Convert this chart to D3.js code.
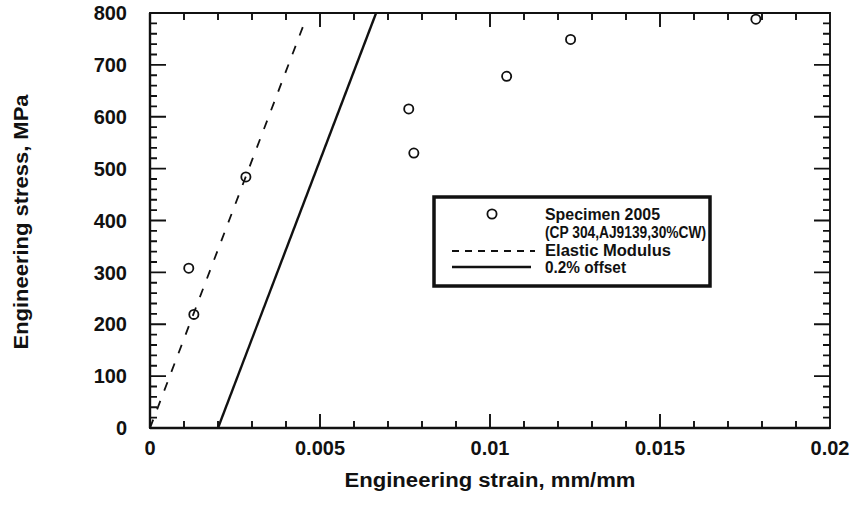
<!DOCTYPE html>
<html>
<head>
<meta charset="utf-8">
<script src="https://cdn.jsdelivr.net/npm/d3@7"></script>
<style>
  html, body { margin: 0; padding: 0; background: #fff; }
  svg { display: block; }
  text { font-family: "Liberation Sans", Arial, Helvetica, sans-serif; font-weight: bold; fill: #111; }
</style>
</head>
<body>
<svg id="chart" width="854" height="505"></svg>
<script>
// ---- data ----
const specimenStrain = [0.00114, 0.00129, 0.00282, 0.00761, 0.00776, 0.01049, 0.01237, 0.01782];
const specimenStress = [308, 219, 484, 615, 530, 678, 749, 788];
const elasticStrain = [0, 0.00457];
const elasticStress = [0, 786];
const offsetStrain = [0.002, 0.00665];
const offsetStress = [0, 800];
const xTickValues = [0, 0.005, 0.01, 0.015, 0.02];
const xTickLabels = ["0", "0.005", "0.01", "0.015", "0.02"];
const yTickValues = [0, 100, 200, 300, 400, 500, 600, 700, 800];
const yTickLabels = ["0", "100", "200", "300", "400", "500", "600", "700", "800"];
const legendLabels = ["Specimen 2005", "(CP 304,AJ9139,30%CW)", "Elastic Modulus", "0.2% offset"];

const svg = d3.select("#chart");
const L = 150, R = 830, T = 13, B = 428;
const x = d3.scaleLinear().domain([0, 0.02]).range([L, R]);
const y = d3.scaleLinear().domain([0, 800]).range([B, T]);

const xMinor = d3.range(1, 20).filter(i => i % 5 !== 0).map(i => i * 0.001);
const yMinor = d3.range(1, 40).filter(i => i % 5 !== 0).map(i => i * 20);

// tick labels
svg.append("g").selectAll("text").data(xTickValues).join("text")
  .attr("x", d => x(d)).attr("y", 455).attr("text-anchor", "middle").attr("font-size", 20)
  .text((d, i) => xTickLabels[i]);
svg.append("g").selectAll("text").data(yTickValues).join("text")
  .attr("x", 127).attr("y", d => y(d)).attr("dy", "0.36em").attr("text-anchor", "end").attr("font-size", 20)
  .text((d, i) => yTickLabels[i]);

// frame + ticks as one path built with d3.path
const p = d3.path();
p.rect(L, T, R - L, B - T);
const xTickData = xMinor.map(v => ({ v, len: 7 })).concat(xTickValues.map(v => ({ v, len: 14 })));
const yTickData = yMinor.map(v => ({ v, len: 7 })).concat(yTickValues.map(v => ({ v, len: 16 })));
xTickData.forEach(d => {
  const px = x(d.v);
  p.moveTo(px, B); p.lineTo(px, B - d.len);
  p.moveTo(px, T); p.lineTo(px, T + d.len);
});
yTickData.forEach(d => {
  const py = y(d.v);
  p.moveTo(L, py); p.lineTo(L + d.len, py);
  p.moveTo(R, py); p.lineTo(R - d.len, py);
});
svg.append("path").attr("d", p.toString())
  .attr("fill", "none").attr("stroke", "#111").attr("stroke-width", 1.9);
svg.append("line").attr("x1", L).attr("x2", R).attr("y1", B).attr("y2", B).attr("stroke", "#111").attr("stroke-width", 2.4);
svg.append("line").attr("x1", L).attr("x2", L).attr("y1", T).attr("y2", B).attr("stroke", "#111").attr("stroke-width", 2.4);

// clip
svg.append("clipPath").attr("id", "clip").append("rect")
  .attr("x", L).attr("y", T).attr("width", R - L).attr("height", B - T);
const plot = svg.append("g").attr("clip-path", "url(#clip)");

const line = d3.line().x(d => x(d[0])).y(d => y(d[1]));
plot.append("path")
  .datum(elasticStrain.map((s, i) => [s, elasticStress[i]]))
  .attr("d", line).attr("fill", "none").attr("stroke", "#111").attr("stroke-width", 1.8)
  .attr("stroke-dasharray", "9,11");
plot.append("path")
  .datum(offsetStrain.map((s, i) => [s, offsetStress[i]]))
  .attr("d", line).attr("fill", "none").attr("stroke", "#111").attr("stroke-width", 2.4);

svg.append("g").selectAll("circle")
  .data(specimenStrain.map((s, i) => [s, specimenStress[i]]))
  .join("circle")
  .attr("cx", d => x(d[0])).attr("cy", d => y(d[1])).attr("r", 4.6)
  .attr("fill", "none").attr("stroke", "#111").attr("stroke-width", 1.8);

// axis titles
svg.append("text").attr("x", 490).attr("y", 487).attr("text-anchor", "middle")
  .attr("font-size", 20).attr("textLength", 291).attr("lengthAdjust", "spacingAndGlyphs")
  .text("Engineering strain, mm/mm");
svg.append("text").attr("transform", "translate(28,222) rotate(-90)").attr("text-anchor", "middle")
  .attr("font-size", 20).attr("textLength", 255).attr("lengthAdjust", "spacingAndGlyphs")
  .text("Engineering stress, MPa");

// legend
const lg = svg.append("g");
lg.append("rect").attr("x", 434).attr("y", 197).attr("width", 276).attr("height", 89)
  .attr("fill", "#fff").attr("stroke", "#111").attr("stroke-width", 3.5);
lg.append("circle").attr("cx", 492).attr("cy", 214).attr("r", 4.6)
  .attr("fill", "none").attr("stroke", "#111").attr("stroke-width", 1.8);
lg.append("line").attr("x1", 452).attr("x2", 535).attr("y1", 251).attr("y2", 251)
  .attr("stroke", "#111").attr("stroke-width", 1.8).attr("stroke-dasharray", "7,6");
lg.append("line").attr("x1", 452).attr("x2", 531).attr("y1", 267).attr("y2", 267)
  .attr("stroke", "#111").attr("stroke-width", 2.4);
const legendY = [220, 238, 256, 273];
const legendW = [115, 161, 126, 81];
legendLabels.forEach((t, i) => {
  lg.append("text").attr("x", 545).attr("y", legendY[i]).attr("font-size", 16)
    .attr("textLength", legendW[i]).attr("lengthAdjust", "spacingAndGlyphs").text(t);
});
</script>
</body>
</html>
